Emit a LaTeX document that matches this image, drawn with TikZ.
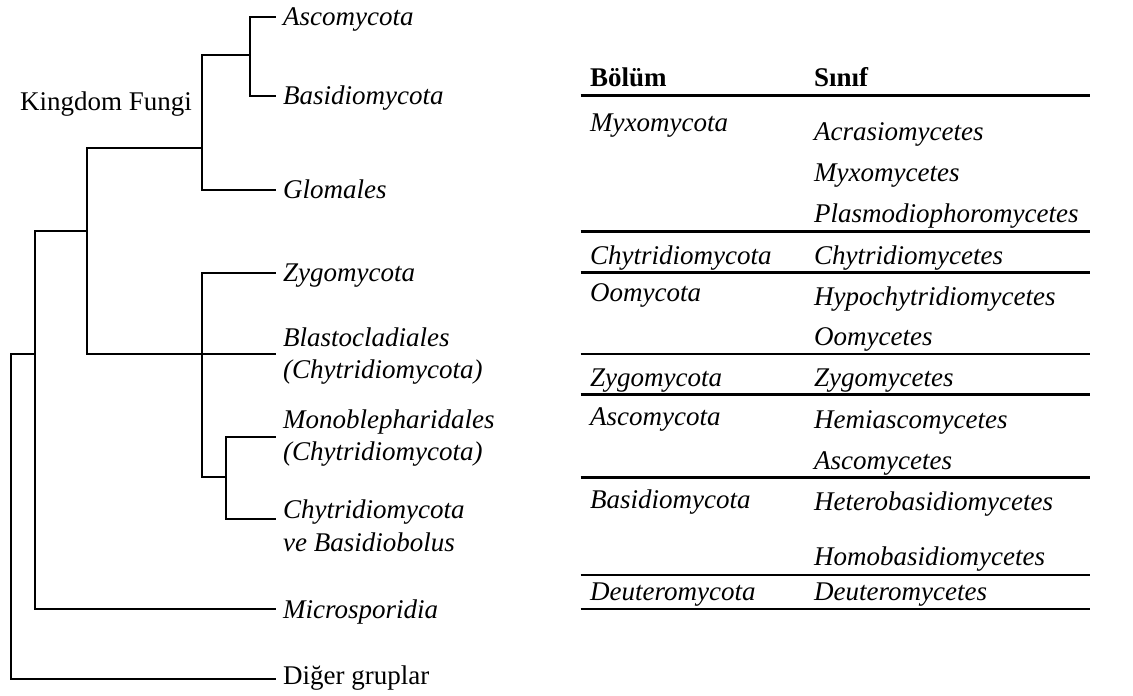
\documentclass[tikz,border=0pt]{standalone}
\usepackage{fontspec}
\setmainfont{Liberation Serif}
\begin{document}
\begin{tikzpicture}[x=1pt,y=-1pt,
  tree/.style={line width=2pt,line cap=rect},
  rule/.style={line width=2.6pt},
  lbl/.style={anchor=base west,inner sep=0pt,font=\fontsize{27}{32}\selectfont\itshape},
  rlbl/.style={anchor=base west,inner sep=0pt,font=\fontsize{27}{32}\selectfont},
  hdr/.style={anchor=base west,inner sep=0pt,font=\fontsize{27}{32}\selectfont\bfseries}]
\useasboundingbox (0,0) rectangle (1133,696);
% leaf attach points
\coordinate (asc) at (275,16.7);
\coordinate (bas) at (275,96);
\coordinate (glo) at (275,190);
\coordinate (zyg) at (275,272.7);
\coordinate (bla) at (275,354);
\coordinate (mon) at (275,436.7);
\coordinate (chy) at (275,519);
\coordinate (mic) at (275,609.3);
\coordinate (dig) at (275,679);
% internal nodes
\coordinate (AB) at (250,55);
\coordinate (ABG) at (201.7,147.7);
\coordinate (F) at (87,230.7);
\coordinate (Z) at (201.7,354);
\coordinate (MC) at (225.7,477.3);
\coordinate (FM) at (34.7,354);
\coordinate (R) at (10.7,354);
% tree
\draw[tree] (AB) |- (asc);
\draw[tree] (AB) |- (bas);
\draw[tree] (ABG) |- (AB);
\draw[tree] (ABG) |- (glo);
\draw[tree] (F) |- (ABG);
\draw[tree] (F) |- (Z);
\draw[tree] (Z) |- (zyg);
\draw[tree] (Z) -- (bla);
\draw[tree] (Z) |- (MC);
\draw[tree] (MC) |- (mon);
\draw[tree] (MC) |- (chy);
\draw[tree] (FM) |- (F);
\draw[tree] (FM) |- (mic);
\draw[tree] (R) -- (FM);
\draw[tree] (R) |- (dig);
% tree labels
\node[rlbl] (kf) at (20,110) {Kingdom Fungi};
\node[lbl] (tasc) at (283,25.2) {Ascomycota};
\node[lbl] (tbas) at (283,104.5) {Basidiomycota};
\node[lbl] (tglo) at (283,198.7) {Glomales};
\node[lbl] (tzyg) at (283,281.3) {Zygomycota};
\node[lbl] (tbla1) at (283,346.7) {Blastocladiales};
\node[lbl] (tbla2) at (283,378.3) {(Chytridiomycota)};
\node[lbl] (tmon1) at (283,428.3) {Monoblepharidales};
\node[lbl] (tmon2) at (283,460) {(Chytridiomycota)};
\node[lbl] (tchy1) at (283,518.3) {Chytridiomycota};
\node[lbl] (tchy2) at (283,551.7) {ve Basidiobolus};
\node[lbl] (tmic) at (283,618) {Microsporidia};
\node[rlbl] (tdig) at (283,684) {Diğer gruplar};
% table
\coordinate (r0a) at (580.7,95.3);  \coordinate (r0b) at (1090,95.3);
\coordinate (r1a) at (580.7,231.3); \coordinate (r1b) at (1090,231.3);
\coordinate (r2a) at (580.7,272.3); \coordinate (r2b) at (1090,272.3);
\coordinate (r3a) at (580.7,354);   \coordinate (r3b) at (1090,354);
\coordinate (r4a) at (580.7,394.3); \coordinate (r4b) at (1090,394.3);
\coordinate (r5a) at (580.7,477.7); \coordinate (r5b) at (1090,477.7);
\coordinate (r6a) at (580.7,575);   \coordinate (r6b) at (1090,575);
\coordinate (r7a) at (580.7,609);   \coordinate (r7b) at (1090,609);
\foreach \i in {0,...,7} {\draw[rule] (r\i a) -- (r\i b);}
\node[hdr] (h1) at (590,86.7) {Bölüm};
\node[hdr] (h2) at (814,86.7) {Sınıf};
\node[lbl] (b1) at (590,131.7) {Myxomycota};
\node[lbl] (s1a) at (814,140) {Acrasiomycetes};
\node[lbl] (s1b) at (814,181) {Myxomycetes};
\node[lbl] (s1c) at (814,222) {Plasmodiophoromycetes};
\node[lbl] (b2) at (590,264.3) {Chytridiomycota};
\node[lbl] (s2) at (814,264.3) {Chytridiomycetes};
\node[lbl] (b3) at (590,301.7) {Oomycota};
\node[lbl] (s3a) at (814,305) {Hypochytridiomycetes};
\node[lbl] (s3b) at (814,345) {Oomycetes};
\node[lbl] (b4) at (590,386) {Zygomycota};
\node[lbl] (s4) at (814,386) {Zygomycetes};
\node[lbl] (b5) at (590,425) {Ascomycota};
\node[lbl] (s5a) at (814,428.3) {Hemiascomycetes};
\node[lbl] (s5b) at (814,469) {Ascomycetes};
\node[lbl] (b6) at (590,508.3) {Basidiomycota};
\node[lbl] (s6a) at (814,510.7) {Heterobasidiomycetes};
\node[lbl] (s6b) at (814,565) {Homobasidiomycetes};
\node[lbl] (b7) at (590,600.7) {Deuteromycota};
\node[lbl] (s7) at (814,600.7) {Deuteromycetes};
\end{tikzpicture}
\end{document}
